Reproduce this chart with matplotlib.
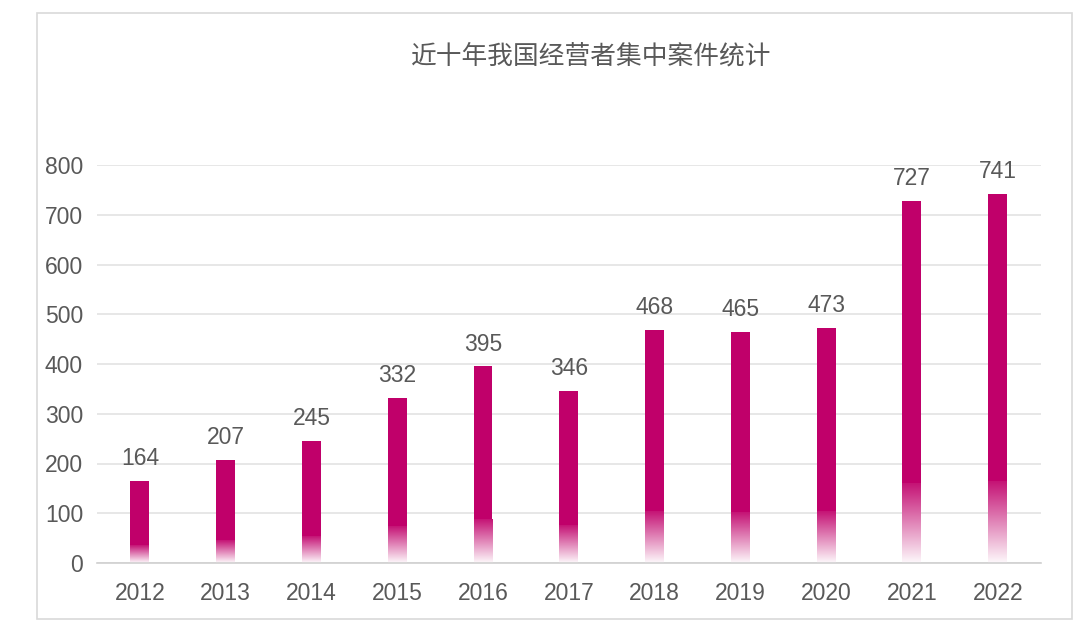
import numpy as np
import matplotlib.pyplot as plt
from matplotlib.patches import Rectangle
from matplotlib.colors import to_rgb

plt.rcParams['font.family'] = ['Liberation Sans', 'Noto Sans CJK SC', 'DejaVu Sans']

# --- Data ---
years = ['2012', '2013', '2014', '2015', '2016', '2017', '2018', '2019', '2020', '2021', '2022']
cases = [164, 207, 245, 332, 395, 346, 468, 465, 473, 727, 741]
title = '近十年我国经营者集中案件统计'

bar_color = '#C0006A'
text_color = '#595959'
bar_width = 0.22
fade_frac = 0.22  # bottom part of each bar fades to white

fig = plt.figure(figsize=(10.8, 6.25), dpi=100)
ax = fig.add_axes([0.0898, 0.0992, 0.8737, 0.6368])

# outer frame of the chart
fig.patches.append(Rectangle((37 / 1080, 1 - 619 / 625), (1072 - 37) / 1080, (619 - 13) / 625,
                             transform=fig.transFigure, fill=False,
                             edgecolor='#D9D9D9', linewidth=1.2))

x = np.arange(len(years))
rgb = np.array(to_rgb(bar_color))

# solid upper part of the bars
heights = np.array(cases, dtype=float)
ax.bar(x, heights * (1 - fade_frac), bottom=heights * fade_frac,
       width=bar_width, color=bar_color, zorder=3)

# faded lower part: vertical gradient blended to white at the bottom
n = 64
mix = np.linspace(0.92, 0.03, n)[:, None]
grad = np.ones((n, 1, 3))
grad[:, 0, :] = mix * rgb + (1 - mix) * 1.0
for xi, h in zip(x, heights):
    ax.imshow(grad, extent=(xi - bar_width / 2, xi + bar_width / 2, 0, h * fade_frac),
              aspect='auto', interpolation='bilinear', zorder=3)

# value labels
for xi, h in zip(x, cases):
    ax.text(xi, h + 22, str(h), ha='center', va='bottom',
            fontsize=16.5, color=text_color, zorder=4)

ax.set_xlim(-0.5, len(years) - 0.5)
ax.set_ylim(0, 800)
ax.set_yticks(range(0, 801, 100))
ax.set_xticks(x)
ax.set_xticklabels(years)
ax.tick_params(axis='both', length=0, labelsize=16.5, labelcolor=text_color)
ax.tick_params(axis='x', pad=14)
ax.tick_params(axis='y', pad=10)
ax.grid(axis='y', color='#E3E3E3', linewidth=1.2, zorder=0)
ax.set_axisbelow(True)
for s in ['left', 'right', 'top']:
    ax.spines[s].set_visible(False)
ax.spines['bottom'].set_color('#D0D0D0')
ax.spines['bottom'].set_linewidth(1.2)
ax.spines['bottom'].set_zorder(5)

fig.text(591 / 1080, 1 - 57 / 625, title, ha='center', va='center',
         fontsize=18.5, color=text_color,
         family=['Noto Sans CJK SC', 'DejaVu Sans'])

fig.savefig('out.png', dpi=100, facecolor='white')
